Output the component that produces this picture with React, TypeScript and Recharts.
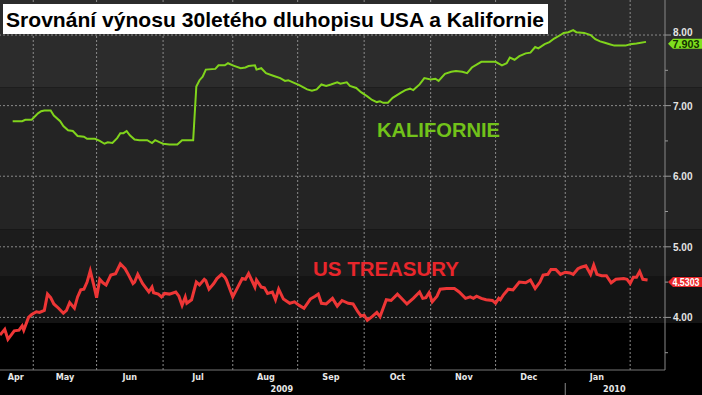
import React from 'react';
import { LineChart, Line, XAxis, YAxis, ReferenceLine, ReferenceArea, ReferenceDot } from 'recharts';

// x = trading day counted from mid April 2009, y = yield in %
const caDays = [4, 7, 8, 10, 12, 13, 14, 16, 17, 19, 20, 21.5, 23, 24.5, 26.5, 27.5, 30, 31.5, 33, 34, 35.5, 37, 38, 39, 40, 41, 42.5, 44, 46.5, 48, 49, 50.5, 51.5, 53.5, 56, 57.5, 59, 61, 62, 63, 64, 65, 68, 69, 71, 72, 73.5, 76, 77.5, 78.5, 80.5, 81, 82.5, 84, 86.5, 88.5, 90, 91, 92.5, 94.5, 97, 98.5, 100, 101.5, 103, 104.5, 106.5, 107.5, 109.5, 110.5, 112.5, 114, 116, 117.5, 119, 120, 121, 122.5, 124, 126.5, 128, 129.5, 130.5, 132.5, 134, 136, 137.5, 138.5, 140.5, 142.5, 144, 146, 147.5, 149, 150.5, 152, 156.5, 158.5, 160, 161, 162.5, 164, 166, 167.5, 169, 170, 172, 173.5, 175, 177, 178, 179.5, 181, 182, 184.5, 186.5, 188, 189.5, 191, 192.5, 194, 197.5, 199, 201, 204];
const caYields = [6.78, 6.78, 6.8, 6.8, 6.89, 6.92, 6.93, 6.93, 6.86, 6.78, 6.71, 6.65, 6.64, 6.57, 6.56, 6.53, 6.53, 6.5, 6.46, 6.48, 6.47, 6.54, 6.61, 6.61, 6.64, 6.58, 6.52, 6.51, 6.51, 6.47, 6.51, 6.48, 6.46, 6.45, 6.45, 6.51, 6.51, 6.51, 7.27, 7.36, 7.41, 7.51, 7.52, 7.57, 7.57, 7.6, 7.57, 7.53, 7.54, 7.56, 7.57, 7.51, 7.53, 7.46, 7.42, 7.39, 7.35, 7.36, 7.33, 7.29, 7.23, 7.21, 7.23, 7.3, 7.28, 7.3, 7.33, 7.31, 7.33, 7.28, 7.25, 7.19, 7.13, 7.08, 7.05, 7.06, 7.04, 7.04, 7.11, 7.18, 7.22, 7.24, 7.22, 7.3, 7.39, 7.37, 7.38, 7.35, 7.45, 7.48, 7.49, 7.48, 7.46, 7.54, 7.58, 7.62, 7.62, 7.57, 7.6, 7.68, 7.65, 7.7, 7.74, 7.75, 7.83, 7.81, 7.87, 7.9, 7.95, 8.0, 8.03, 8.04, 8.07, 8.04, 8.03, 8.0, 7.94, 7.91, 7.89, 7.87, 7.85, 7.85, 7.87, 7.88, 7.903];

const usDays = [0, 1.5, 2.5, 3.5, 4.5, 6, 7, 7.5, 9, 10, 11.5, 12.5, 14, 15, 16, 17, 18.5, 20, 21, 22, 23.5, 24.5, 25.5, 26.5, 27.5, 28.5, 29.5, 30.5, 31.5, 32.5, 33.5, 35, 36.5, 38, 39.5, 40.5, 42, 42.5, 43.5, 45, 47, 48, 48.5, 50, 51, 52, 53.5, 55.5, 56.5, 57.5, 58.5, 59, 60.5, 62, 63, 64.5, 65, 66, 67.5, 68.5, 70, 71, 71.5, 73.5, 76.5, 77.5, 78.5, 80.5, 81, 82.5, 83.5, 84.5, 86, 87, 88, 89.5, 91.5, 93, 94.5, 96, 98, 99.5, 100.5, 101.5, 103, 105, 106.5, 108, 110, 111.5, 113, 114, 115, 116, 117.5, 119, 120, 122, 123.5, 125.5, 127, 128.5, 130.5, 132.5, 133.5, 134.5, 135.5, 136.5, 138, 139, 141, 143.5, 145, 147, 148.5, 149.5, 150.5, 152, 153.5, 155.5, 156.5, 157.5, 158, 159, 160.5, 162, 164, 166, 167.5, 169, 170.5, 171.5, 173, 174, 175.5, 177, 178.5, 180, 181, 182.5, 183.5, 185, 186.5, 187.5, 188.5, 190, 191.5, 193, 194.5, 197, 198, 199, 200, 201, 202, 203, 204.5];
const usYields = [3.75, 3.83, 3.69, 3.75, 3.81, 3.82, 3.88, 3.82, 4.0, 4.04, 4.08, 4.07, 4.1, 4.33, 4.28, 4.19, 4.13, 4.06, 4.1, 4.21, 4.13, 4.29, 4.39, 4.4, 4.5, 4.66, 4.48, 4.28, 4.54, 4.49, 4.46, 4.6, 4.62, 4.76, 4.69, 4.61, 4.48, 4.5, 4.61, 4.48, 4.36, 4.43, 4.35, 4.33, 4.29, 4.34, 4.33, 4.36, 4.3, 4.17, 4.29, 4.2, 4.25, 4.5, 4.46, 4.54, 4.52, 4.4, 4.48, 4.55, 4.61, 4.57, 4.53, 4.29, 4.55, 4.54, 4.62, 4.43, 4.53, 4.43, 4.42, 4.34, 4.36, 4.25, 4.4, 4.26, 4.2, 4.22, 4.17, 4.13, 4.26, 4.3, 4.33, 4.2, 4.19, 4.27, 4.16, 4.24, 4.2, 4.19, 4.08, 4.02, 4.03, 3.96, 4.01, 4.07, 4.01, 4.25, 4.24, 4.33, 4.26, 4.19, 4.27, 4.36, 4.27, 4.28, 4.35, 4.22, 4.3, 4.4, 4.41, 4.41, 4.36, 4.27, 4.29, 4.27, 4.3, 4.27, 4.25, 4.24, 4.2, 4.27, 4.25, 4.32, 4.4, 4.39, 4.5, 4.49, 4.53, 4.41, 4.5, 4.6, 4.61, 4.68, 4.68, 4.61, 4.64, 4.63, 4.61, 4.69, 4.71, 4.73, 4.61, 4.74, 4.61, 4.59, 4.59, 4.49, 4.54, 4.55, 4.54, 4.48, 4.57, 4.57, 4.65, 4.54, 4.5303];

const monthNames = ['Apr', 'May', 'Jun', 'Jul', 'Aug', 'Sep', 'Oct', 'Nov', 'Dec', 'Jan'];
const monthMids = [5, 20.5, 41, 62.5, 84, 104.5, 125.5, 146.5, 167, 188.5];
const monthStarts = [10.5, 30.5, 51.5, 73.5, 94, 115, 136, 156.5, 178.5, 199];
const yearNames = ['2009', '2010'];
const yearMids = [89, 194];
const yearBreak = 178.5;

const yTicks = [3.5, 4, 4.5, 5, 5.5, 6, 6.5, 7, 7.5, 8];
const gridLevels = [4, 5, 6, 7, 8];
const bandEdges = [8.6, 7.26, 5.25, 4.585, 3.92];
const bandFills = ['#2c2c2c', '#242424', '#1c1c1c', '#141414'];

const caData = caDays.map((d, i) => ({ d, v: caYields[i] }));
const usData = usDays.map((d, i) => ({ d, v: usYields[i] }));

const font = 'Liberation Sans, Arial, sans-serif';
const narrow = 'Liberation Sans Narrow, DejaVu Sans Condensed, Arial, sans-serif';

const MonthTick = (props: any) => {
  const { x, y, payload } = props;
  const i = monthMids.indexOf(payload.value);
  return (
    <text x={x} y={y + 10} fill="#e8e8e8" fontSize={9} fontWeight="bold" fontFamily={narrow} textAnchor="middle">
      {monthNames[i]}
    </text>
  );
};

const YearTick = (props: any) => {
  const { x, y, payload } = props;
  if (payload.value === yearBreak) {
    return <line x1={x} x2={x} y1={y + 1} y2={y + 14} stroke="#888" />;
  }
  const i = yearMids.indexOf(payload.value);
  return (
    <text x={x} y={y + 10} fill="#e8e8e8" fontSize={9} fontWeight="bold" fontFamily={narrow} textAnchor="middle">
      {yearNames[i]}
    </text>
  );
};

const PriceTick = (props: any) => {
  const { x, y, payload } = props;
  const major = Number.isInteger(payload.value);
  // the top label sits behind the last-value badge in the original
  const hidden = payload.value === 8;
  return (
    <g>
      <line x1={x} x2={x + (major ? 6 : 3)} y1={y} y2={y} stroke="#999" />
      {major && (
        <text x={x + 8} y={y + (hidden ? 1 : 4)} fill="#e4e4e4" fontSize={10} fontWeight="bold" fontFamily={font}>
          {payload.value.toFixed(2)}
        </text>
      )}
    </g>
  );
};

const badge = (fill: string, color: string, label: string) => (p: any) => {
  const { cx, cy } = p;
  const c = cy + 2;
  return (
    <g>
      <polygon
        points={`${cx + 3},${c} ${cx + 8},${c - 5} ${cx + 37},${c - 5} ${cx + 37},${c + 5} ${cx + 8},${c + 5}`}
        fill={fill}
      />
      <text x={cx + 21} y={c + 4} fill={color} fontSize={10} fontWeight="bold" fontFamily={font} textAnchor="middle" textLength={27} lengthAdjust="spacingAndGlyphs">
        {label}
      </text>
    </g>
  );
};

export default function App() {
  const lastCa = caYields[caYields.length - 1];
  const lastUs = usYields[usYields.length - 1];
  return (
    <div style={{ position: 'absolute', left: 0, top: 0, width: 702, height: 395, background: '#000', overflow: 'hidden' }}>
      <LineChart width={702} height={395} margin={{ top: 0, right: 0, bottom: 0, left: 0 }}>
        {bandFills.map((f, i) => (
          <ReferenceArea key={'b' + i} x1={0} x2={222} y1={bandEdges[i + 1]} y2={bandEdges[i]} fill={f} fillOpacity={1} stroke="none" ifOverflow="visible" />
        ))}
        <XAxis
          dataKey="d"
          type="number"
          domain={[0, 210]}
          allowDataOverflow
          ticks={monthMids}
          interval={0}
          height={12}
          tickSize={0}
          tickMargin={0}
          tickLine={false}
          axisLine={{ stroke: '#777' }}
          tick={<MonthTick />}
        />
        <XAxis
          xAxisId="year"
          dataKey="d"
          type="number"
          domain={[0, 210]}
          allowDataOverflow
          ticks={[...yearMids, yearBreak]}
          interval={0}
          height={13}
          tickSize={0}
          tickMargin={0}
          tickLine={false}
          axisLine={false}
          tick={<YearTick />}
        />
        <YAxis
          orientation="right"
          type="number"
          domain={[3.255, 8.496]}
          allowDataOverflow
          ticks={yTicks}
          interval={0}
          width={37}
          tickSize={0}
          tickMargin={0}
          tickLine={false}
          axisLine={{ stroke: '#888' }}
          tick={<PriceTick />}
        />
        {gridLevels.map((v) => (
          <ReferenceLine key={'h' + v} y={v} stroke="#8a8a8a" strokeDasharray="2 2" />
        ))}
        {monthStarts.map((d) => (
          <ReferenceLine key={'v' + d} x={d} stroke="#8a8a8a" strokeDasharray="2 2" />
        ))}
        <Line data={caData} dataKey="v" type="linear" stroke="#80d41c" strokeWidth={2} dot={false} activeDot={false} isAnimationActive={false} />
        <Line data={usData} dataKey="v" type="linear" stroke="#ee3636" strokeWidth={3} dot={false} activeDot={false} isAnimationActive={false} />
        <ReferenceDot x={210} y={lastCa} r={0} ifOverflow="visible" shape={badge('#7fe01e', '#143000', lastCa.toFixed(3))} />
        <ReferenceDot x={210} y={lastUs} r={0} ifOverflow="visible" shape={badge('#e8282b', '#ffffff', lastUs.toFixed(4))} />
      </LineChart>
      <svg width={702} height={395} style={{ position: 'absolute', left: 0, top: 0, pointerEvents: 'none' }}>
        <rect x={3} y={4} width={545} height={30} fill="#fff" />
        <text x={6} y={27} fontSize={21} fontWeight="bold" fontFamily={font} fill="#000" textLength={538} lengthAdjust="spacingAndGlyphs">
          Srovnání výnosu 30letého dluhopisu USA a Kalifornie
        </text>
        <text x={377} y={137} fontSize={20} fontWeight="bold" fontFamily={font} fill="#72c21a" textLength={123} lengthAdjust="spacingAndGlyphs">
          KALIFORNIE
        </text>
        <text x={313} y={276} fontSize={20} fontWeight="bold" fontFamily={font} fill="#e8262b" textLength={146} lengthAdjust="spacingAndGlyphs">
          US TREASURY
        </text>
      </svg>
    </div>
  );
}
